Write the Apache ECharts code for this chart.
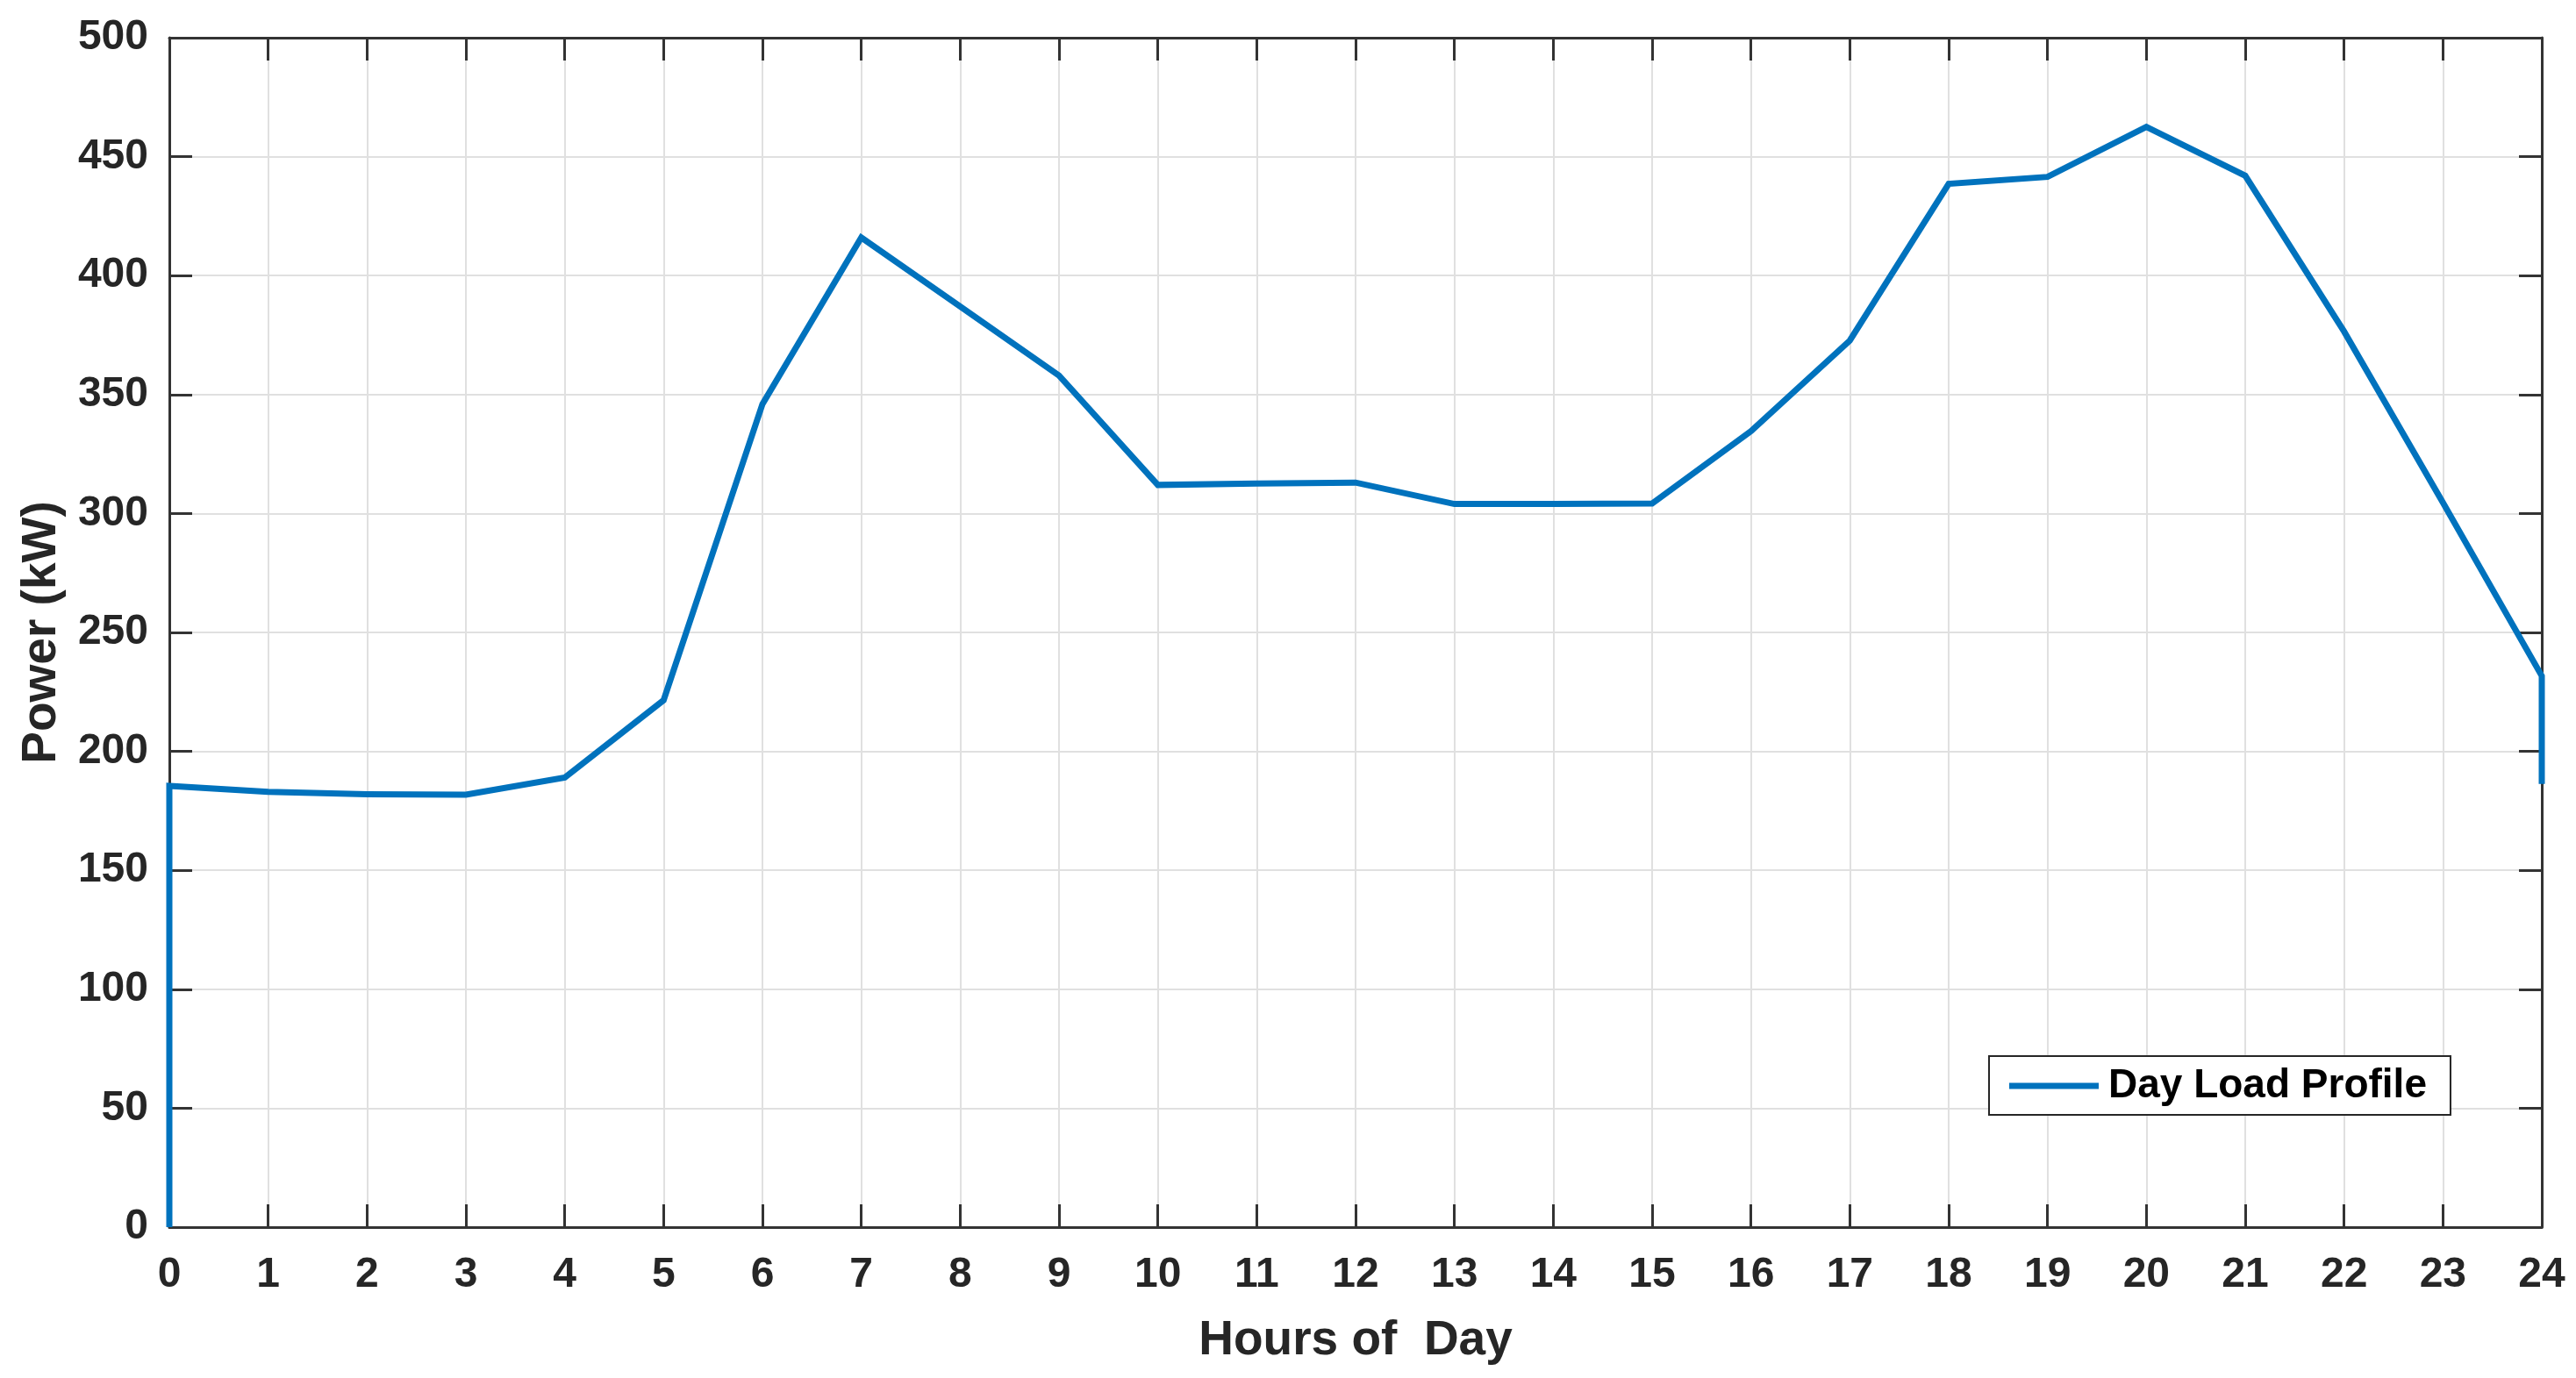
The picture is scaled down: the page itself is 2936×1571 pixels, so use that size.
<!DOCTYPE html>
<html>
<head>
<meta charset="utf-8">
<script src="https://cdn.jsdelivr.net/npm/echarts@6/dist/echarts.min.js"></script>
<style>
html,body{margin:0;padding:0;background:#fff;}
#chart{width:2936px;height:1571px;}
</style>
</head>
<body>
<div id="chart"></div>
<script>
// Data
var hours = [0, 0, 1, 2, 3, 4, 5, 6, 7, 8, 9, 10, 11, 12, 13, 14, 15, 16, 17, 18, 19, 20, 21, 22, 23, 24, 24];
var power = [0, 185.5, 183, 182, 181.8, 189, 221.5, 346, 416, 387, 358, 312, 312.6, 313, 304, 304, 304.2, 334.6, 372.7, 438.6, 441.5, 462.5, 442, 376.5, 304.6, 231.7, 186.3];
var seriesName = 'Day Load Profile';
var xTitle = 'Hours of  Day';
var yTitle = 'Power (kW)';

var points = hours.map(function (h, i) { return [h, power[i]]; });

var FONT = '"Liberation Sans", Arial, sans-serif';
var AXIS_COLOR = '#333333';
var TEXT_COLOR = '#262626';
var GRID_COLOR = '#e0e0e0';
var LINE_COLOR = '#0072BD';

var chart = echarts.init(document.getElementById('chart'), null, {renderer: 'canvas'});
chart.setOption({
  backgroundColor: '#ffffff',
  animation: false,
  grid: {left: 193, right: 39, top: 43, bottom: 172, containLabel: false},
  legend: {
    show: true,
    data: [{name: seriesName, icon: 'rect'}],
    left: 2267,
    top: 1204,
    orient: 'horizontal',
    padding: [11, 27, 10, 23],
    itemWidth: 102,
    itemHeight: 7,
    itemStyle: {color: LINE_COLOR},
    backgroundColor: '#ffffff',
    borderColor: '#262626',
    borderWidth: 2,
    borderRadius: 0,
    textStyle: {fontFamily: FONT, fontWeight: 'bold', fontSize: 46, color: '#000000', padding: [0, 0, 0, 6]}
  },
  xAxis: [{
    type: 'value',
    min: 0, max: 24, interval: 1,
    position: 'bottom',
    name: xTitle,
    nameLocation: 'middle',
    nameGap: 102,
    nameTextStyle: {fontFamily: FONT, fontWeight: 'bold', fontSize: 55, color: TEXT_COLOR},
    axisLine: {show: true, onZero: false, lineStyle: {color: AXIS_COLOR, width: 3}},
    axisTick: {show: true, inside: true, length: 26, lineStyle: {color: AXIS_COLOR, width: 3}},
    axisLabel: {show: true, margin: 31, fontFamily: FONT, fontWeight: 'bold', fontSize: 48, color: TEXT_COLOR},
    splitLine: {show: true, lineStyle: {color: GRID_COLOR, width: 2}}
  }, {
    type: 'value',
    min: 0, max: 24, interval: 1,
    position: 'top',
    axisLine: {show: true, onZero: false, lineStyle: {color: AXIS_COLOR, width: 3}},
    axisTick: {show: true, inside: true, length: 26, lineStyle: {color: AXIS_COLOR, width: 3}},
    axisLabel: {show: false},
    splitLine: {show: false}
  }],
  yAxis: [{
    type: 'value',
    min: 0, max: 500, interval: 50,
    position: 'left',
    name: yTitle,
    nameLocation: 'middle',
    nameRotate: 90,
    nameGap: 118,
    nameTextStyle: {fontFamily: FONT, fontWeight: 'bold', fontSize: 55, color: TEXT_COLOR},
    axisLine: {show: true, onZero: false, lineStyle: {color: AXIS_COLOR, width: 3}},
    axisTick: {show: true, inside: true, length: 26, lineStyle: {color: AXIS_COLOR, width: 3}},
    axisLabel: {show: true, margin: 24, fontFamily: FONT, fontWeight: 'bold', fontSize: 48, color: TEXT_COLOR},
    splitLine: {show: true, lineStyle: {color: GRID_COLOR, width: 2}}
  }, {
    type: 'value',
    min: 0, max: 500, interval: 50,
    position: 'right',
    axisLine: {show: true, onZero: false, lineStyle: {color: AXIS_COLOR, width: 3}},
    axisTick: {show: true, inside: true, length: 26, lineStyle: {color: AXIS_COLOR, width: 3}},
    axisLabel: {show: false},
    splitLine: {show: false}
  }],
  series: [{
    name: seriesName,
    type: 'line',
    xAxisIndex: 0,
    yAxisIndex: 0,
    data: points,
    symbol: 'none',
    showSymbol: false,
    smooth: false,
    clip: false,
    lineStyle: {color: LINE_COLOR, width: 7, join: 'miter'},
    itemStyle: {color: LINE_COLOR},
    z: 5
  }]
});
</script>
</body>
</html>
